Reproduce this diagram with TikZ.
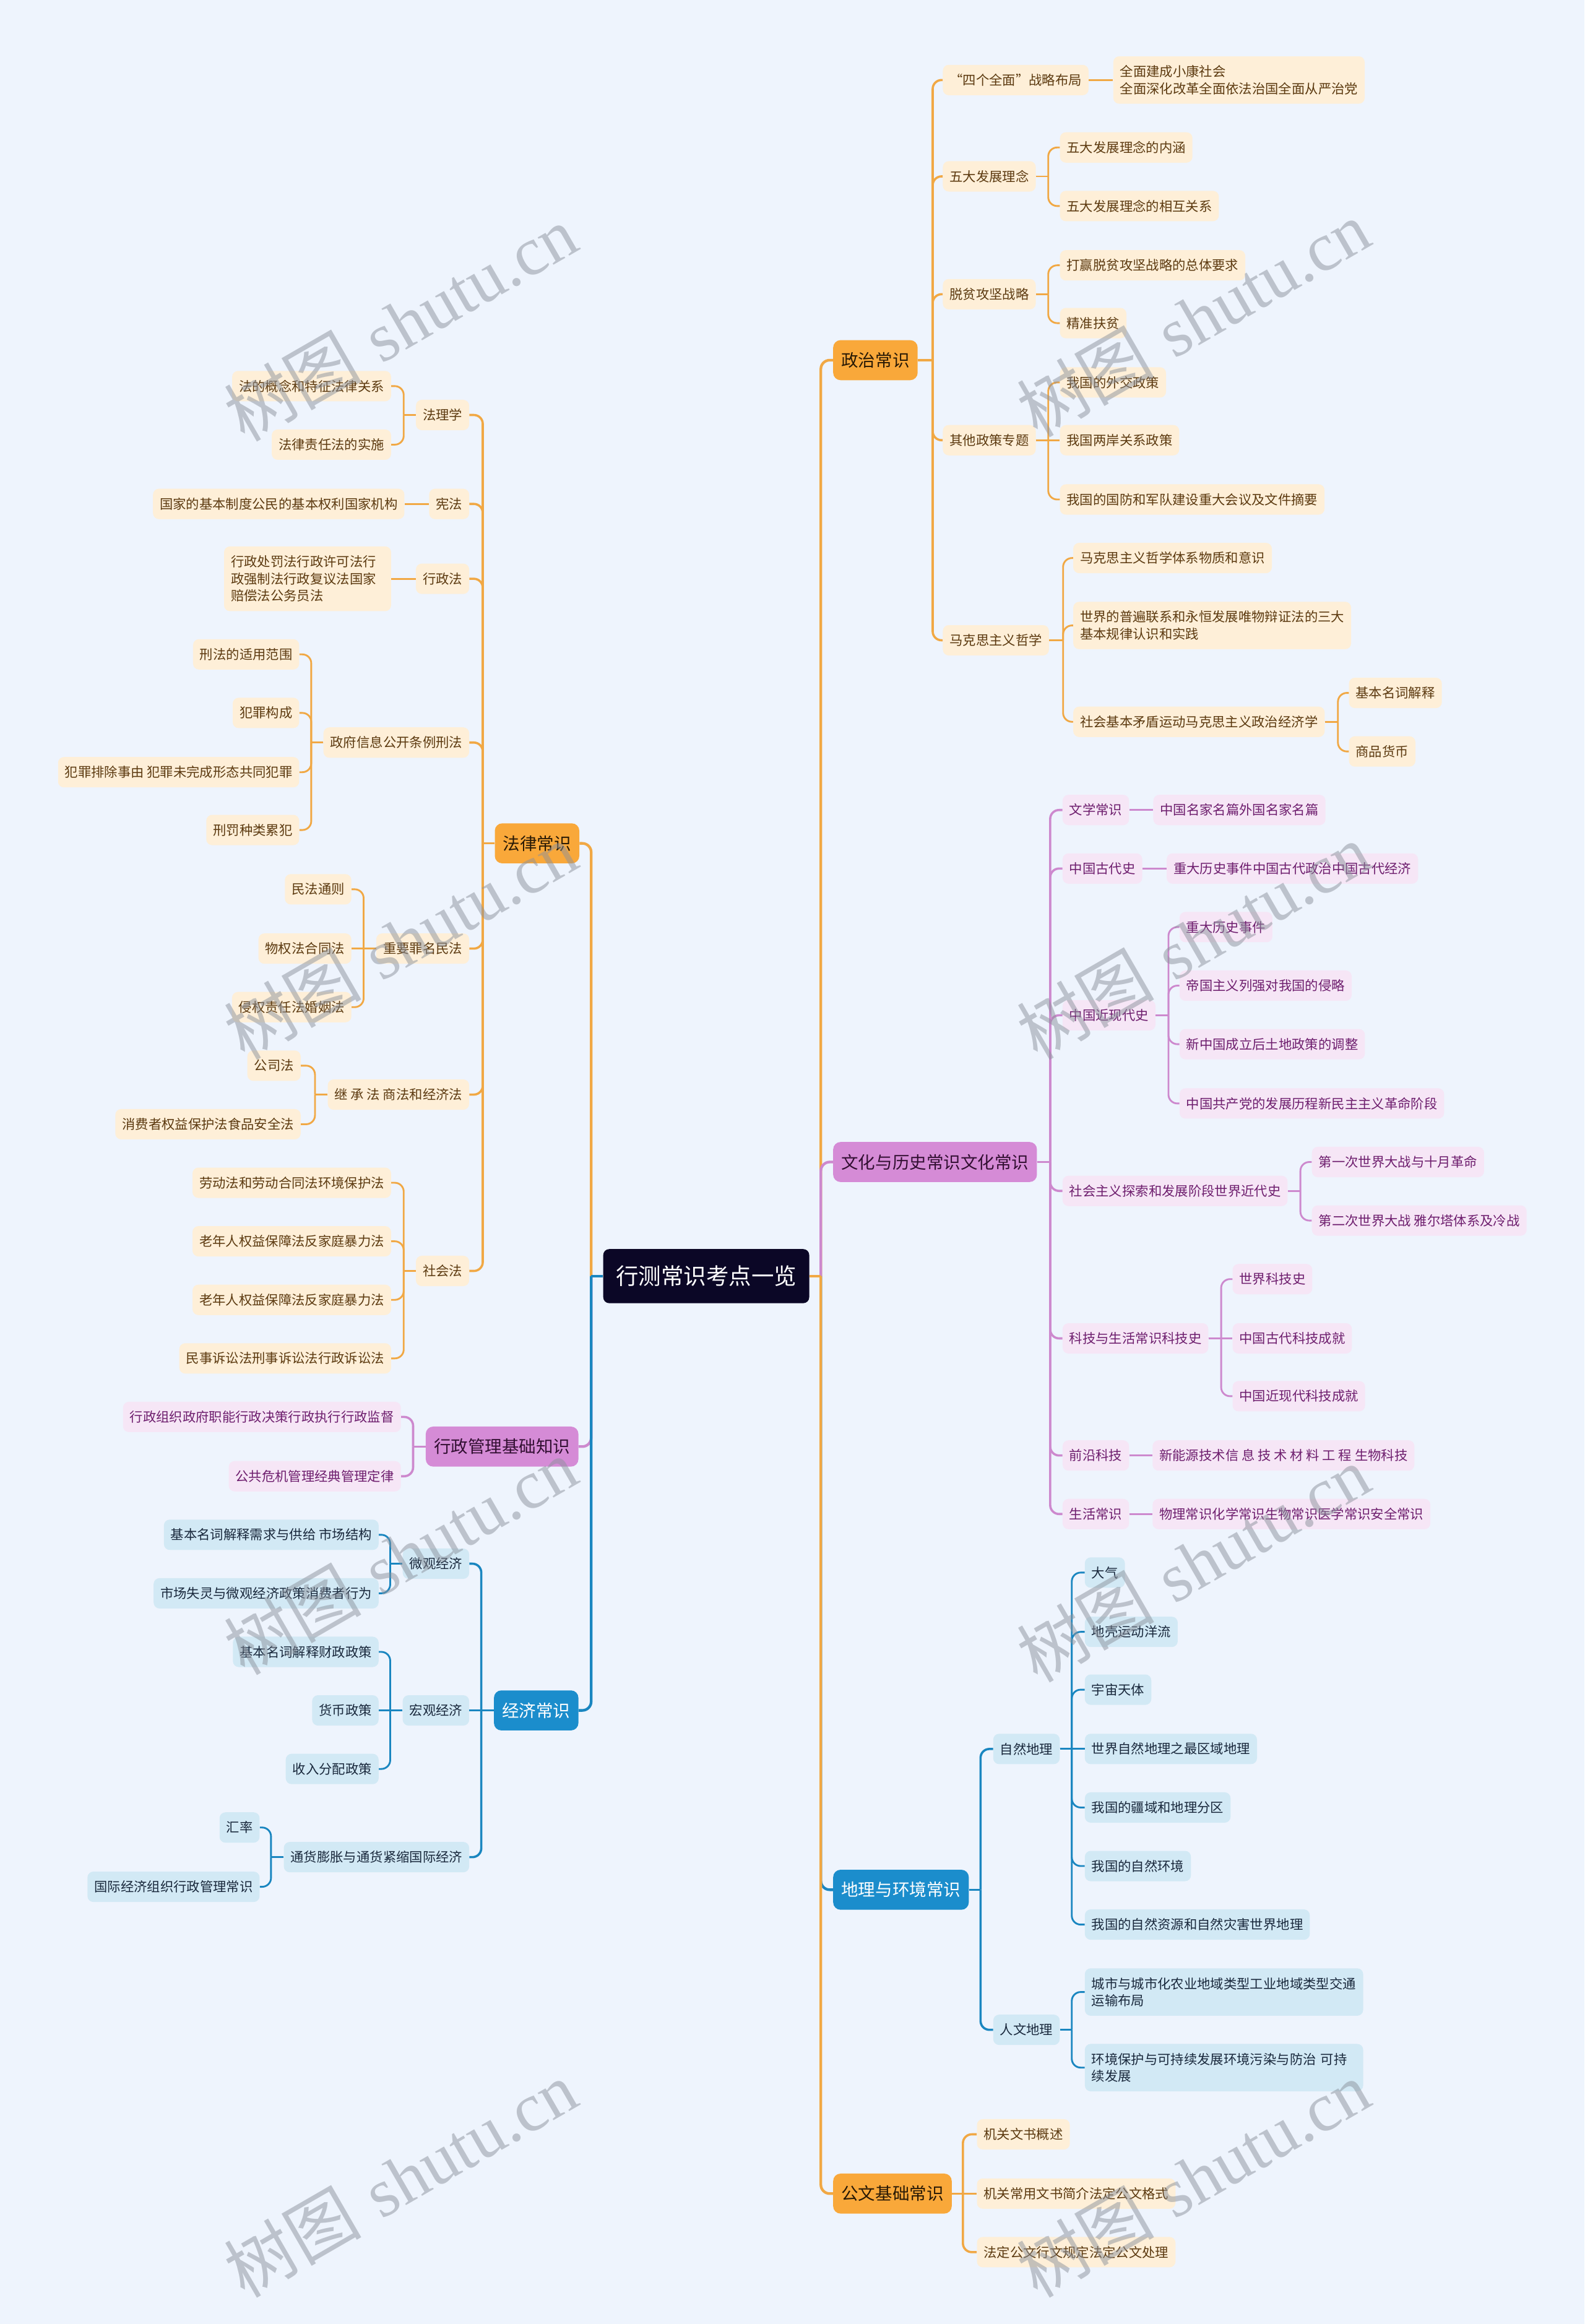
\documentclass[tikz,border=0pt]{standalone}
\usepackage{fontspec}
\newfontfamily\cjk{Noto Sans CJK SC}
\newfontfamily\wmserif{Liberation Serif}
\definecolor{bg}{RGB}{238,244,253}
\definecolor{oF}{RGB}{249,168,58}
\definecolor{oC}{RGB}{241,168,68}
\definecolor{oL}{RGB}{254,239,216}
\definecolor{oT}{RGB}{92,58,16}
\definecolor{oD}{RGB}{40,25,5}
\definecolor{pF}{RGB}{213,139,214}
\definecolor{pC}{RGB}{205,137,206}
\definecolor{pL}{RGB}{246,230,246}
\definecolor{pT}{RGB}{110,30,110}
\definecolor{pD}{RGB}{50,15,50}
\definecolor{bF}{RGB}{27,141,204}
\definecolor{bC}{RGB}{26,134,192}
\definecolor{bL}{RGB}{210,233,245}
\definecolor{bT}{RGB}{25,40,60}
\definecolor{rootc}{RGB}{11,7,38}
\definecolor{wmc}{RGB}{140,146,156}
\newcommand\sfnt{\cjk\fontsize{12.68pt}{16.36pt}\selectfont}
\newcommand\lfnt{\cjk\fontsize{16.36pt}{20pt}\selectfont}
\newcommand\rfnt{\cjk\fontsize{21.69pt}{26pt}\selectfont}
\newcommand\wmfnt{\fontsize{66pt}{66pt}\selectfont}
\newcommand\conR[4]{\draw[#1] (#2.east) -- ++(#4,0);\draw[#1,rounded corners=0.3cm] (#2.east) ++(#4,0) |- (#3.west);}
\newcommand\conL[4]{\draw[#1] (#2.west) -- ++(-#4,0);\draw[#1,rounded corners=0.3cm] (#2.west) ++(-#4,0) |- (#3.east);}
\newcommand\strR[3]{\draw[#1] (#2.east) -- (#3.west);}
\newcommand\strL[3]{\draw[#1] (#2.west) -- (#3.east);}
\tikzset{
 sn/.style={rounded corners=0.2cm, inner xsep=0.23cm, inner ysep=0pt, minimum height=1.025cm, font=\sfnt},
 so/.style={sn, fill=oL, text=oT},
 sp/.style={sn, fill=pL, text=pT},
 sb/.style={sn, fill=bL, text=bT},
 two/.style={align=left, minimum height=1.6cm},
 three/.style={align=left, minimum height=2.185cm},
 ln/.style={rounded corners=0.25cm, inner xsep=0.275cm, inner ysep=0pt, minimum height=1.35cm, font=\lfnt},
 lo/.style={ln, fill=oF, text=oD},
 lp/.style={ln, fill=pF, text=pD},
 lb/.style={ln, fill=bF, text=white},
 rootn/.style={rounded corners=0.2cm, fill=rootc, text=white, inner xsep=0.425cm, inner ysep=0pt, minimum height=1.825cm, font=\rfnt},
 ctO/.style={draw=oC, line width=0.09cm},
 ctP/.style={draw=pC, line width=0.09cm},
 ctB/.style={draw=bC, line width=0.09cm},
 cmO/.style={draw=oC, line width=0.075cm},
 cmP/.style={draw=pC, line width=0.075cm},
 cmB/.style={draw=bC, line width=0.075cm},
 ccO/.style={draw=oC, line width=0.06cm},
 ccP/.style={draw=pC, line width=0.06cm},
 ccB/.style={draw=bC, line width=0.06cm},
 wm/.style={rotate=30, text=wmc, text opacity=0.5, inner sep=0pt, font=\wmfnt}
}
\begin{document}
\begin{tikzpicture}[x=0.05cm,y=-0.05cm]
\fill[bg] (0,0) rectangle (1069,1568);
\useasboundingbox (0,0) rectangle (1069,1568);

% root
\node[rootn] (root) at (476.5,861) {行测常识考点一览};

% level 1 right
\node[lo,anchor=west] (pol) at (562,243) {政治常识};
\node[lp,anchor=west] (cul) at (562,784) {文化与历史常识文化常识};
\node[lb,anchor=west] (geo) at (562,1275) {地理与环境常识};
\node[lo,anchor=west] (doc) at (562,1480) {公文基础常识};
% level 1 left
\node[lo,anchor=east] (law) at (391,569) {法律常识};
\node[lp,anchor=east] (adm) at (390.4,976) {行政管理基础知识};
\node[lb,anchor=east] (eco) at (390.4,1154) {经济常识};

% politics
\node[so,anchor=west] (p1) at (636,54) {“四个全面”战略布局};
\node[so,two,anchor=west] (p1a) at (751,54) {全面建成小康社会\\全面深化改革全面依法治国全面从严治党};
\node[so,anchor=west] (p2) at (636,119) {五大发展理念};
\node[so,anchor=west] (p2a) at (715,99.5) {五大发展理念的内涵};
\node[so,anchor=west] (p2b) at (715,139) {五大发展理念的相互关系};
\node[so,anchor=west] (p3) at (636,198.5) {脱贫攻坚战略};
\node[so,anchor=west] (p3a) at (715,179) {打赢脱贫攻坚战略的总体要求};
\node[so,anchor=west] (p3b) at (715,218) {精准扶贫};
\node[so,anchor=west] (p4) at (636,297) {其他政策专题};
\node[so,anchor=west] (p4a) at (715,258) {我国的外交政策};
\node[so,anchor=west] (p4b) at (715,297) {我国两岸关系政策};
\node[so,anchor=west] (p4c) at (715,337) {我国的国防和军队建设重大会议及文件摘要};
\node[so,anchor=west] (p5) at (636,432) {马克思主义哲学};
\node[so,anchor=west] (p5a) at (724,376.5) {马克思主义哲学体系物质和意识};
\node[so,two,anchor=west] (p5b) at (724,422) {世界的普遍联系和永恒发展唯物辩证法的三大\\基本规律认识和实践};
\node[so,anchor=west] (p5c) at (724,487) {社会基本矛盾运动马克思主义政治经济学};
\node[so,anchor=west] (p5d) at (910,467.5) {基本名词解释};
\node[so,anchor=west] (p5e) at (910,507) {商品货币};

% culture
\node[sp,anchor=west] (c1) at (716.8,546.5) {文学常识};
\node[sp,anchor=west] (c1a) at (778,546.5) {中国名家名篇外国名家名篇};
\node[sp,anchor=west] (c2) at (716.8,586) {中国古代史};
\node[sp,anchor=west] (c2a) at (787,586) {重大历史事件中国古代政治中国古代经济};
\node[sp,anchor=west] (c3) at (716.8,685) {中国近现代史};
\node[sp,anchor=west] (c3a) at (795.7,625.5) {重大历史事件};
\node[sp,anchor=west] (c3b) at (795.7,665) {帝国主义列强对我国的侵略};
\node[sp,anchor=west] (c3c) at (795.7,704.5) {新中国成立后土地政策的调整};
\node[sp,anchor=west] (c3d) at (795.7,744.5) {中国共产党的发展历程新民主主义革命阶段};
\node[sp,anchor=west] (c4) at (716.8,803.5) {社会主义探索和发展阶段世界近代史};
\node[sp,anchor=west] (c4a) at (885,784) {第一次世界大战与十月革命};
\node[sp,anchor=west] (c4b) at (885,823.5) {第二次世界大战 雅尔塔体系及冷战};
\node[sp,anchor=west] (c5) at (716.8,903) {科技与生活常识科技史};
\node[sp,anchor=west] (c5a) at (831.5,863) {世界科技史};
\node[sp,anchor=west] (c5b) at (831.5,903) {中国古代科技成就};
\node[sp,anchor=west] (c5c) at (831.5,942) {中国近现代科技成就};
\node[sp,anchor=west] (c6) at (716.8,982) {前沿科技};
\node[sp,anchor=west] (c6a) at (777.5,982) {新能源技术信 息 技 术 材 料 工 程 生物科技};
\node[sp,anchor=west] (c7) at (716.8,1021.5) {生活常识};
\node[sp,anchor=west] (c7a) at (777.5,1021.5) {物理常识化学常识生物常识医学常识安全常识};

% geography
\node[sb,anchor=west] (g1) at (670,1180) {自然地理};
\node[sb,anchor=west] (g1a) at (731.8,1061) {大气};
\node[sb,anchor=west] (g1b) at (731.8,1101) {地壳运动洋流};
\node[sb,anchor=west] (g1c) at (731.8,1140) {宇宙天体};
\node[sb,anchor=west] (g1d) at (731.8,1180) {世界自然地理之最区域地理};
\node[sb,anchor=west] (g1e) at (731.8,1219.5) {我国的疆域和地理分区};
\node[sb,anchor=west] (g1f) at (731.8,1259) {我国的自然环境};
\node[sb,anchor=west] (g1g) at (731.8,1298.5) {我国的自然资源和自然灾害世界地理};
\node[sb,anchor=west] (g2) at (670,1369.5) {人文地理};
\node[sb,two,text width=8.93cm,anchor=west] (g2a) at (731.8,1344) {城市与城市化农业地域类型工业地域类型交通\\运输布局};
\node[sb,two,text width=8.93cm,anchor=west] (g2b) at (731.8,1395) {环境保护与可持续发展环境污染与防治 可持\\续发展};

% documents
\node[so,anchor=west] (d1) at (659,1440) {机关文书概述};
\node[so,anchor=west] (d2) at (659,1480) {机关常用文书简介法定公文格式};
\node[so,anchor=west] (d3) at (659,1519.5) {法定公文行文规定法定公文处理};

% law
\node[so,anchor=east] (l1) at (316.7,280) {法理学};
\node[so,anchor=east] (l1a) at (264,260.5) {法的概念和特征法律关系};
\node[so,anchor=east] (l1b) at (264,300) {法律责任法的实施};
\node[so,anchor=east] (l2) at (316.7,340) {宪法};
\node[so,anchor=east] (l2a) at (273,340) {国家的基本制度公民的基本权利国家机构};
\node[so,anchor=east] (l3) at (316.7,390.5) {行政法};
\node[so,three,text width=5.175cm,anchor=east] (l3a) at (264,390.5) {行政处罚法行政许可法行\\政强制法行政复议法国家\\赔偿法公务员法};
\node[so,anchor=east] (l4) at (316.7,501) {政府信息公开条例刑法};
\node[so,anchor=east] (l4a) at (202,441.5) {刑法的适用范围};
\node[so,anchor=east] (l4b) at (202,481) {犯罪构成};
\node[so,anchor=east] (l4c) at (202,521) {犯罪排除事由 犯罪未完成形态共同犯罪};
\node[so,anchor=east] (l4d) at (202,560) {刑罚种类累犯};
\node[so,anchor=east] (l5) at (316.7,640) {重要罪名民法};
\node[so,anchor=east] (l5a) at (237.2,600) {民法通则};
\node[so,anchor=east] (l5b) at (237.2,640) {物权法合同法};
\node[so,anchor=east] (l5c) at (237.2,679.5) {侵权责任法婚姻法};
\node[so,anchor=east] (l6) at (316.7,738.5) {继 承 法 商法和经济法};
\node[so,anchor=east] (l6a) at (203,719) {公司法};
\node[so,anchor=east] (l6b) at (203,758.5) {消费者权益保护法食品安全法};
\node[so,anchor=east] (l7) at (316.7,857.5) {社会法};
\node[so,anchor=east] (l7a) at (264,798) {劳动法和劳动合同法环境保护法};
\node[so,anchor=east] (l7b) at (264,837.5) {老年人权益保障法反家庭暴力法};
\node[so,anchor=east] (l7c) at (264,877) {老年人权益保障法反家庭暴力法};
\node[so,anchor=east] (l7d) at (264,916.5) {民事诉讼法刑事诉讼法行政诉讼法};

% administration
\node[sp,anchor=east] (a1) at (270.6,956) {行政组织政府职能行政决策行政执行行政监督};
\node[sp,anchor=east] (a2) at (270.6,996) {公共危机管理经典管理定律};

% economics
\node[sb,anchor=east] (e1) at (316.7,1055) {微观经济};
\node[sb,anchor=east] (e1a) at (255.6,1035.5) {基本名词解释需求与供给 市场结构};
\node[sb,anchor=east] (e1b) at (255.6,1075) {市场失灵与微观经济政策消费者行为};
\node[sb,anchor=east] (e2) at (316.7,1154) {宏观经济};
\node[sb,anchor=east] (e2a) at (255.6,1114.5) {基本名词解释财政政策};
\node[sb,anchor=east] (e2b) at (255.6,1154) {货币政策};
\node[sb,anchor=east] (e2c) at (255.6,1193.5) {收入分配政策};
\node[sb,anchor=east] (e3) at (316.7,1253) {通货膨胀与通货紧缩国际经济};
\node[sb,anchor=east] (e3a) at (175.3,1233) {汇率};
\node[sb,anchor=east] (e3b) at (175.3,1273) {国际经济组织行政管理常识};

% ---------- connectors ----------
% trunk
\conR{ctO}{root}{pol}{7.7}
\conR{ctP}{root}{cul}{7.7}
\conR{ctB}{root}{geo}{7.7}
\conR{ctO}{root}{doc}{7.7}
\conL{ctO}{root}{law}{8}
\conL{ctP}{root}{adm}{8}
\conL{ctB}{root}{eco}{8}

% politics
\conR{cmO}{pol}{p1}{10}
\conR{cmO}{pol}{p2}{10}
\conR{cmO}{pol}{p3}{10}
\conR{cmO}{pol}{p4}{10}
\conR{cmO}{pol}{p5}{10}
\strR{ccO}{p1}{p1a}
\conR{ccO}{p2}{p2a}{8.3}
\conR{ccO}{p2}{p2b}{8.3}
\conR{ccO}{p3}{p3a}{8.3}
\conR{ccO}{p3}{p3b}{8.3}
\conR{ccO}{p4}{p4a}{8.3}
\strR{ccO}{p4}{p4b}
\conR{ccO}{p4}{p4c}{8.3}
\conR{ccO}{p5}{p5a}{9.4}
\conR{ccO}{p5}{p5b}{9.4}
\conR{ccO}{p5}{p5c}{9.4}
\conR{ccO}{p5c}{p5d}{8.8}
\conR{ccO}{p5c}{p5e}{8.8}

% culture
\conR{cmP}{cul}{c1}{8.8}
\conR{cmP}{cul}{c2}{8.8}
\conR{cmP}{cul}{c3}{8.8}
\conR{cmP}{cul}{c4}{8.8}
\conR{cmP}{cul}{c5}{8.8}
\conR{cmP}{cul}{c6}{8.8}
\conR{cmP}{cul}{c7}{8.8}
\strR{ccP}{c1}{c1a}
\strR{ccP}{c2}{c2a}
\conR{ccP}{c3}{c3a}{8.6}
\conR{ccP}{c3}{c3b}{8.6}
\conR{ccP}{c3}{c3c}{8.6}
\conR{ccP}{c3}{c3d}{8.6}
\conR{ccP}{c4}{c4a}{8.5}
\conR{ccP}{c4}{c4b}{8.5}
\conR{ccP}{c5}{c5a}{8.5}
\strR{ccP}{c5}{c5b}
\conR{ccP}{c5}{c5c}{8.5}
\strR{ccP}{c6}{c6a}
\strR{ccP}{c7}{c7a}

% geography
\conR{cmB}{geo}{g1}{7.8}
\conR{cmB}{geo}{g2}{7.8}
\conR{ccB}{g1}{g1a}{8}
\conR{ccB}{g1}{g1b}{8}
\conR{ccB}{g1}{g1c}{8}
\strR{ccB}{g1}{g1d}
\conR{ccB}{g1}{g1e}{8}
\conR{ccB}{g1}{g1f}{8}
\conR{ccB}{g1}{g1g}{8}
\conR{ccB}{g2}{g2a}{8}
\conR{ccB}{g2}{g2b}{8}

% documents
\conR{cmO}{doc}{d1}{7.4}
\strR{cmO}{doc}{d2}
\conR{cmO}{doc}{d3}{7.4}

% law
\conL{cmO}{law}{l1}{8}
\conL{cmO}{law}{l2}{8}
\conL{cmO}{law}{l3}{8}
\conL{cmO}{law}{l4}{8}
\conL{cmO}{law}{l5}{8}
\conL{cmO}{law}{l6}{8}
\conL{cmO}{law}{l7}{8}
\conL{ccO}{l1}{l1a}{8.1}
\conL{ccO}{l1}{l1b}{8.1}
\strL{ccO}{l2}{l2a}
\strL{ccO}{l3}{l3a}
\conL{ccO}{l4}{l4a}{8.1}
\conL{ccO}{l4}{l4b}{8.1}
\conL{ccO}{l4}{l4c}{8.1}
\conL{ccO}{l4}{l4d}{8.1}
\conL{ccO}{l5}{l5a}{8.4}
\strL{ccO}{l5}{l5b}
\conL{ccO}{l5}{l5c}{8.4}
\conL{ccO}{l6}{l6a}{8.5}
\conL{ccO}{l6}{l6b}{8.5}
\conL{ccO}{l7}{l7a}{8.1}
\conL{ccO}{l7}{l7b}{8.1}
\conL{ccO}{l7}{l7c}{8.1}
\conL{ccO}{l7}{l7d}{8.1}

% administration
\conL{cmP}{adm}{a1}{8.4}
\conL{cmP}{adm}{a2}{8.4}

% economics
\conL{cmB}{eco}{e1}{8.4}
\strL{cmB}{eco}{e2}
\conL{cmB}{eco}{e3}{8.4}
\conL{ccB}{e1}{e1a}{8.3}
\conL{ccB}{e1}{e1b}{8.3}
\conL{ccB}{e2}{e2a}{8.3}
\strL{ccB}{e2}{e2b}
\conL{ccB}{e2}{e2c}{8.3}
\conL{ccB}{e3}{e3a}{8.5}
\conL{ccB}{e3}{e3b}{8.5}

% watermarks
\node[wm] (w1) at (270,218) {{\cjk 树图} {\wmserif shutu.cn}};
\node[wm] (w2) at (805,215) {{\cjk 树图} {\wmserif shutu.cn}};
\node[wm] (w3) at (270,635) {{\cjk 树图} {\wmserif shutu.cn}};
\node[wm] (w4) at (805,635) {{\cjk 树图} {\wmserif shutu.cn}};
\node[wm] (w5) at (270,1050) {{\cjk 树图} {\wmserif shutu.cn}};
\node[wm] (w6) at (805,1055) {{\cjk 树图} {\wmserif shutu.cn}};
\node[wm] (w7) at (270,1470) {{\cjk 树图} {\wmserif shutu.cn}};
\node[wm] (w8) at (805,1470) {{\cjk 树图} {\wmserif shutu.cn}};
\end{tikzpicture}
\end{document}
